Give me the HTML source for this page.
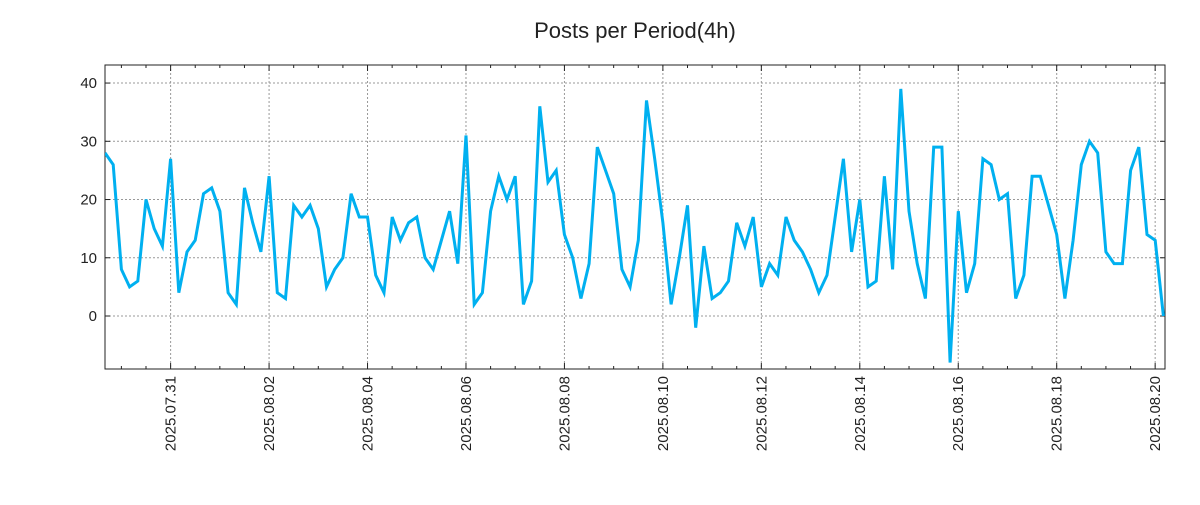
<!DOCTYPE html>
<html><head><meta charset="utf-8"><style>
body{margin:0;background:#fff;}
svg text{font-family:"Liberation Sans","DejaVu Sans",sans-serif;fill:#222;}
</style></head><body>
<svg id="chart" width="1200" height="500" xmlns="http://www.w3.org/2000/svg">
<text x="635" y="38" font-size="22" text-anchor="middle">Posts per Period(4h)</text>
<g id="grid"></g><g id="axes"></g><g id="series"></g>
</svg>
<script>
const values=[28,26,8,5,6,20,15,12,27,4,11,13,21,22,18,4,2,22,16,11,24,4,3,19,17,19,15,5,8,10,21,17,17,7,4,17,13,16,17,10,8,13,18,9,31,2,4,18,24,20,24,2,6,36,23,25,14,10,3,9,29,25,21,8,5,13,37,27,16,2,10,19,-2,12,3,4,6,16,12,17,5,9,7,17,13,11,8,4,7,17,27,11,20,5,6,24,8,39,18,9,3,29,29,-8,18,4,9,27,26,20,21,3,7,24,24,19,14,3,13,26,30,28,11,9,9,25,29,14,13,0];
const xTickLabels=["2025.07.31","2025.08.02","2025.08.04","2025.08.06","2025.08.08","2025.08.10","2025.08.12","2025.08.14","2025.08.16","2025.08.18","2025.08.20"];
const yTicks=[0,10,20,30,40];
const L=105,R=1165,T=65,B=369;
const tMin=-1.333,tMax=20.2,yMin=-9.1,yMax=43.1;
const sx=t=>L+(t-tMin)/(tMax-tMin)*(R-L);
const sy=v=>B-(v-yMin)/(yMax-yMin)*(B-T);
const NS="http://www.w3.org/2000/svg";
function mk(tag,attrs,parent){const e=document.createElementNS(NS,tag);for(const k in attrs)e.setAttribute(k,attrs[k]);parent.appendChild(e);return e;}
const grid=document.getElementById('grid'),axes=document.getElementById('axes'),series=document.getElementById('series');
yTicks.forEach(v=>{
 const y=sy(v);
 const g=mk('line',{x1:L,x2:R,y1:y,y2:y,stroke:'#999','stroke-dasharray':'2,2','stroke-width':1},grid);
 
 
 mk('line',{x1:L,x2:L+5,y1:y,y2:y,stroke:'#222'},axes);
 mk('line',{x1:R-5,x2:R,y1:y,y2:y,stroke:'#222'},axes);
 const t=mk('text',{x:L-8,y:y+5,'font-size':15,'text-anchor':'end'},axes);
 t.textContent=v;
 
 
});
xTickLabels.forEach((lab,i)=>{
 const x=sx(i*2);
 const g=mk('line',{x1:x,x2:x,y1:T,y2:B,stroke:'#999','stroke-dasharray':'2,2','stroke-width':1},grid);
 
 
 mk('line',{x1:x,x2:x,y1:B-6,y2:B,stroke:'#222'},axes);
 mk('line',{x1:x,x2:x,y1:T,y2:T+6,stroke:'#222'},axes);
 const t=mk('text',{x:0,y:0,'font-size':15,'text-anchor':'end',transform:`translate(${x+5},${B+7}) rotate(-90)`},axes);
 t.textContent=lab;
 
 
});
for(let d=-1;d<=20.2;d+=0.5){
 if(Math.abs(d%2)<0.01)continue;
 const x=sx(d);if(x<L||x>R)continue;
 mk('line',{x1:x,x2:x,y1:B-3,y2:B,stroke:'#222'},axes);
 mk('line',{x1:x,x2:x,y1:T,y2:T+3,stroke:'#222'},axes);
}
const frame=mk('rect',{x:L,y:T,width:R-L,height:B-T,fill:'none',stroke:'#222','stroke-width':1},axes);


mk('clipPath',{id:'clip'},series);
mk('rect',{x:L,y:T,width:R-L,height:B-T},document.getElementById('clip'));
const pts=values.map((v,i)=>sx(-1.333+i/6).toFixed(1)+','+sy(v).toFixed(1)).join(' ');
const line=mk('polyline',{points:pts,fill:'none',stroke:'#00b0f0','stroke-width':3,'stroke-linejoin':'miter','clip-path':'url(#clip)'},series);


</script>
</body></html>
